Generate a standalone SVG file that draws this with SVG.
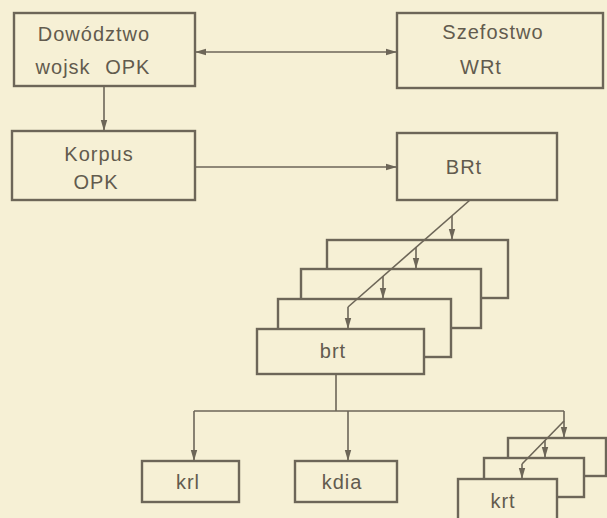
<svg xmlns="http://www.w3.org/2000/svg" width="607" height="518" viewBox="0 0 607 518">
<defs>
<marker id="ah" markerUnits="userSpaceOnUse" markerWidth="12" markerHeight="8" refX="11" refY="4" orient="auto-start-reverse">
<path d="M0,0.8 L11,4 L0,7.2 Z" fill="#6d6658"/>
</marker>
<style>
.bx{fill:#f6f0d5;stroke:#6d6658;stroke-width:2.4}
.cn{fill:none;stroke:#6d6658;stroke-width:1.6}
.ar{marker-end:url(#ah)}
.tx{font-family:"Liberation Sans",Arial,sans-serif;font-size:20px;fill:#625b4e;text-anchor:middle;letter-spacing:1px}
</style>
</defs>
<rect width="607" height="518" fill="#f6f0d5"/>
<g id="dowodztwo">
<rect class="bx" x="14" y="13" width="181" height="73"/>
<text class="tx" x="94" y="41">Dowództwo</text>
<text class="tx" x="93" y="74" word-spacing="8">wojsk OPK</text>
</g>
<g id="szefostwo">
<rect class="bx" x="397" y="13" width="206" height="75"/>
<text class="tx" x="493" y="39" letter-spacing="1.6">Szefostwo</text>
<text class="tx" x="481" y="74">WRt</text>
</g>
<g id="korpus">
<rect class="bx" x="12" y="131" width="183" height="69"/>
<text class="tx" x="99" y="161">Korpus</text>
<text class="tx" x="96" y="189">OPK</text>
</g>
<g id="BRt">
<rect class="bx" x="397" y="133" width="160" height="67"/>
<text class="tx" x="464" y="174">BRt</text>
</g>
<g id="brt-stack">
<rect class="bx" x="327" y="240" width="181" height="58"/>
<rect class="bx" x="301" y="269" width="180" height="59"/>
<rect class="bx" x="278" y="299" width="173" height="58"/>
</g>
<g id="brt">
<rect class="bx" x="257" y="329" width="167" height="45"/>
<text class="tx" x="333" y="358">brt</text>
</g>
<g id="krl">
<rect class="bx" x="142" y="461" width="97" height="41"/>
<text class="tx" x="188" y="489">krl</text>
</g>
<g id="kdia">
<rect class="bx" x="295" y="461" width="102" height="41"/>
<text class="tx" x="342" y="489">kdia</text>
</g>
<g id="krt-stack">
<rect class="bx" x="508" y="438" width="98" height="38"/>
<rect class="bx" x="484" y="458" width="100" height="39"/>
</g>
<g id="krt">
<rect class="bx" x="458" y="479" width="99" height="45"/>
<text class="tx" x="503" y="508">krt</text>
</g>
<g id="connectors">
<path class="cn ar" d="M195,52 H397" marker-start="url(#ah)"/>
<path class="cn ar" d="M104,86 V131"/>
<path class="cn ar" d="M195,167 H397"/>
<path class="cn" d="M470,200 L348,307"/>
<path class="cn ar" d="M452,216 V240"/>
<path class="cn ar" d="M416,247 V269"/>
<path class="cn ar" d="M383,276 V299"/>
<path class="cn ar" d="M348,307 V329"/>
<path class="cn" d="M336,374 V411 M194,411 H564"/>
<path class="cn ar" d="M194,411 V461"/>
<path class="cn ar" d="M348,411 V461"/>
<path class="cn ar" d="M564,411 V438"/>
<path class="cn" d="M564,421 L522,464"/>
<path class="cn ar" d="M545,440 V458"/>
<path class="cn ar" d="M522,464 V479"/>
</g>
</svg>
